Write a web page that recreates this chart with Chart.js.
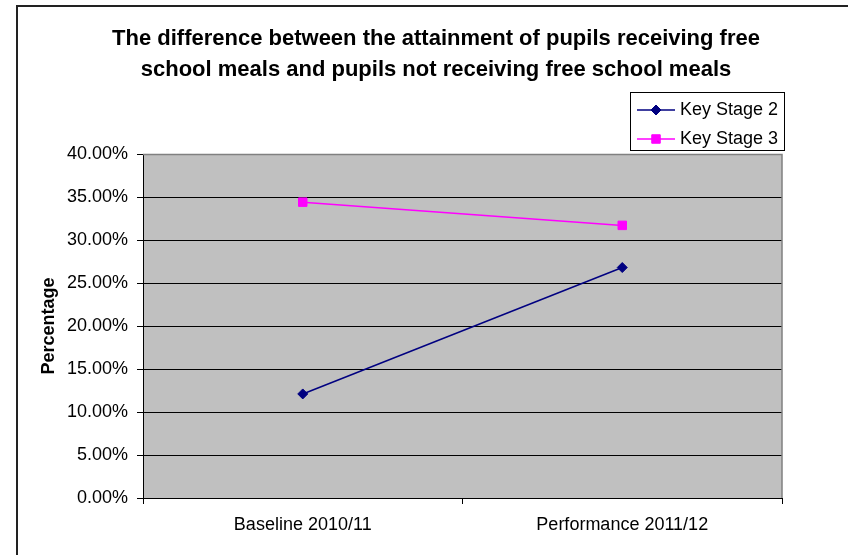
<!DOCTYPE html>
<html>
<head>
<meta charset="utf-8">
<script src="https://cdn.jsdelivr.net/npm/chart.js@4/dist/chart.umd.min.js"></script>
<style>
    html, body { margin: 0; padding: 0; background: #fff; }
    canvas { display: block; }
</style>
</head>
<body>
<canvas id="fsmChart" width="848" height="555"></canvas>
<script>
// Attainment gap, percentage points
const periods = ['Baseline 2010/11', 'Performance 2011/12'];
const keyStage2 = [12.1, 26.8];
const keyStage3 = [34.4, 31.7];
const seriesNames = ['Key Stage 2', 'Key Stage 3'];
const chartTitle = [
    'The difference between the attainment of pupils receiving free',
    'school meals and pupils not receiving free school meals'
];

const FONT = '"Liberation Sans", Arial, sans-serif';

// Grey plot background, grey top/right edge, outer frame
const plotFrame = {
    id: 'plotFrame',
    beforeDraw(chart) {
        const { ctx, chartArea: a } = chart;
        ctx.save();
        ctx.fillStyle = '#fff';
        ctx.fillRect(0, 0, chart.width, chart.height);
        ctx.fillStyle = '#c0c0c0';
        ctx.fillRect(a.left, a.top, a.right - a.left, a.bottom - a.top);
        ctx.strokeStyle = '#222';
        ctx.lineWidth = 2;
        ctx.strokeRect(17, 6, chart.width + 20, chart.height + 20);
        ctx.restore();
    },
    beforeDatasetsDraw(chart) {
        const { ctx, chartArea: a } = chart;
        ctx.save();
        ctx.strokeStyle = '#808080';
        ctx.lineWidth = 1.5;
        ctx.beginPath();
        ctx.moveTo(a.left, a.top + 0.5);
        ctx.lineTo(a.right, a.top + 0.5);
        ctx.lineTo(a.right, a.bottom);
        ctx.stroke();
        ctx.restore();
    }
};

// Two-line heading, centred a bit right of the canvas middle
const heading = {
    id: 'heading',
    afterDraw(chart) {
        const ctx = chart.ctx;
        ctx.save();
        ctx.fillStyle = '#000';
        ctx.font = 'bold 22px ' + FONT;
        ctx.textAlign = 'center';
        ctx.textBaseline = 'alphabetic';
        chartTitle.forEach((line, i) => ctx.fillText(line, 436, 44.5 + i * 31));
        ctx.restore();
    }
};

// Boxed legend in the top right corner
const boxLegend = {
    id: 'boxLegend',
    afterDraw(chart) {
        const ctx = chart.ctx;
        const x = 630.5, y = 92.5, w = 154, h = 58;
        ctx.save();
        ctx.fillStyle = '#fff';
        ctx.fillRect(x, y, w, h);
        ctx.strokeStyle = '#000';
        ctx.lineWidth = 1;
        ctx.strokeRect(x, y, w, h);
        const rows = [110, 139];
        chart.data.datasets.forEach((ds, i) => {
            const ly = rows[i];
            ctx.strokeStyle = ds.borderColor;
            ctx.lineWidth = ds.borderWidth;
            ctx.beginPath();
            ctx.moveTo(637, ly);
            ctx.lineTo(675, ly);
            ctx.stroke();
            ctx.fillStyle = ds.pointBackgroundColor;
            ctx.strokeStyle = ds.pointBorderColor;
            ctx.lineWidth = 1;
            Chart.helpers.drawPoint(ctx, {
                pointStyle: ds.pointStyle,
                radius: ds.pointRadius,
                borderWidth: 1
            }, 656, ly);
            ctx.fillStyle = '#000';
            ctx.font = '18px ' + FONT;
            ctx.textAlign = 'left';
            ctx.textBaseline = 'alphabetic';
            ctx.fillText(ds.label, 680, ly + 5);
        });
        ctx.restore();
    }
};

const ctx = document.getElementById('fsmChart').getContext('2d');
new Chart(ctx, {
    type: 'line',
    data: {
        labels: periods,
        datasets: [
            {
                label: seriesNames[0],
                data: keyStage2,
                borderColor: '#000080',
                backgroundColor: '#000080',
                pointBackgroundColor: '#000080',
                pointBorderColor: '#000080',
                borderWidth: 1.5,
                pointStyle: 'rectRot',
                pointRadius: 5,
                pointBorderWidth: 1
            },
            {
                label: seriesNames[1],
                data: keyStage3,
                borderColor: '#ff00ff',
                backgroundColor: '#ff00ff',
                pointBackgroundColor: '#ff00ff',
                pointBorderColor: '#ff00ff',
                borderWidth: 1.5,
                pointStyle: 'rect',
                pointRadius: 6,
                pointBorderWidth: 1
            }
        ]
    },
    options: {
        responsive: false,
        animation: false,
        layout: {
            padding: { left: 38, right: 66, top: 154, bottom: 0 }
        },
        elements: {
            line: { tension: 0, fill: false }
        },
        scales: {
            x: {
                offset: true,
                afterFit(scale) { scale.height = 57; },
                grid: {
                    offset: true,
                    drawOnChartArea: false,
                    drawTicks: true,
                    tickLength: 6,
                    tickColor: '#000'
                },
                border: { color: '#000', width: 1 },
                ticks: {
                    padding: 10,
                    color: '#000',
                    font: { family: FONT, size: 18 }
                }
            },
            y: {
                min: 0,
                max: 40,
                afterFit(scale) { scale.width = 105; },
                grid: {
                    color: (c) => (c.tick && c.tick.value === 40 ? '#808080' : '#000'),
                    lineWidth: 1,
                    tickLength: 6,
                    tickColor: '#000'
                },
                border: { color: '#000', width: 1 },
                ticks: {
                    stepSize: 5,
                    padding: 9,
                    color: '#000',
                    font: { family: FONT, size: 18 },
                    callback: (v) => v.toFixed(2) + '%'
                },
                title: {
                    display: true,
                    text: 'Percentage',
                    color: '#000',
                    padding: 0,
                    font: { family: FONT, size: 18, weight: 'bold' }
                }
            }
        },
        plugins: {
            legend: { display: false },
            tooltip: { enabled: false },
            title: { display: false }
        }
    },
    plugins: [plotFrame, heading, boxLegend]
});
</script>
</body>
</html>
